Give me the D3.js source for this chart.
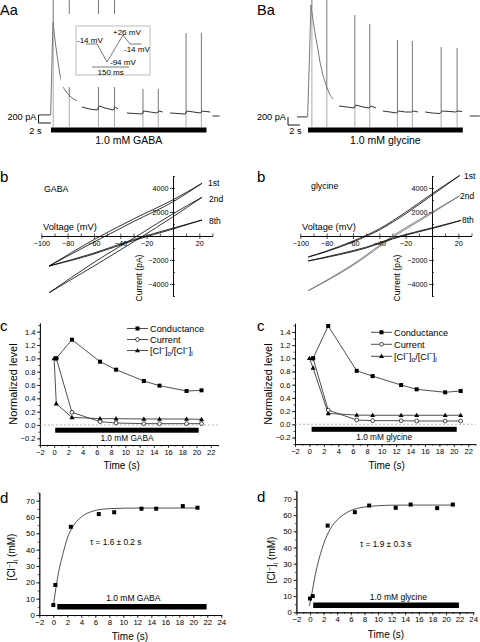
<!DOCTYPE html>
<html><head><meta charset="utf-8">
<script src="https://cdn.jsdelivr.net/npm/d3@7/dist/d3.min.js"></script>
<style>
html,body{margin:0;padding:0;background:#fff}
svg{display:block}
text{font-family:"Liberation Sans",Arial,Helvetica,sans-serif;fill:#000}
</style></head><body>
<svg id="fig" width="480" height="642"></svg>
<script>
// ================= DATA =================
// Aa / Ba : holding current traces (time s, current pA), pieces between voltage ramps
const traceGABA = [
  [[-1.7,0],[-1.0,4],[-0.1,0]],
  [[-0.05,0],[0.27,2325],[0.55,1875],[0.82,1500],[1.23,1000],[1.64,700],[2.19,550],[2.88,425],[3.56,350]],
  [[4.25,200],[5.3,150],[6.3,125],[6.6,225],[7.4,175],[8.5,125],[8.8,200],[9.2,150]],
  [[10.4,50],[11.5,37],[12.5,25],[12.7,100],[13.6,75],[14.5,50],[14.8,100],[15.3,75]],
  [[16.3,50],[17.4,37],[18.4,25],[18.6,100],[19.5,75],[20.5,50],[20.7,100],[21.8,75]],
  [[22.1,-25],[23.1,-25]]
];
const rampTimesGABA = [0.3, 2.5, 6.5, 8.7, 12.6, 14.7, 18.5, 20.6];
const rampBaseGABA  = [2300, 450, 125, 125, 25, 50, 25, 50];
const rampPeakGABA  = [3000, 3000, 3000, 3000, 650, 650, 2050, 2050];
const rampTroughGABA = -300;

const traceGly = [
  [[-1.55,0],[-0.8,4],[-0.1,0]],
  [[-0.05,0],[0.42,2800],[0.7,2425],[0.99,2100],[1.41,1675],[1.69,1375],[2.1,1050],[2.68,725],[3.1,550],[3.52,450]],
  [[4.37,275],[5.5,250],[6.48,225],[6.76,300],[7.75,250],[8.6,225],[8.87,275],[9.58,225]],
  [[10.56,150],[11.55,125],[12.5,100],[12.8,150],[13.7,125],[14.6,125],[14.9,150],[15.5,125]],
  [[16.5,125],[17.5,100],[18.6,87],[18.9,150],[20.0,137],[20.8,125],[21.1,150],[21.7,137]],
  [[22.8,25],[24.2,25]]
];
const rampTimesGly = [0.55, 2.65, 6.6, 8.7, 12.6, 14.7, 18.75, 21.0];
const rampBaseGly  = [2750, 700, 225, 225, 100, 125, 90, 125];
const rampPeakGly  = [3000, 3000, 2550, 2325, 1925, 1900, 1750, 1725];
const rampTroughGly = -250;

const barGABA = [0, 21.3];
const barGly  = [0, 21.8];

// inset voltage protocol (ms, mV)
const protoT = [0, 45, 85, 150, 178, 225];
const protoV = [-14, -14, -94, 26, -14, -14];

// b : I-V curves (mV, pA) – two branches per ramp
const ivGABA = {
  "1st": [[[-94,-2500],[-60,-500],[-30,1200],[0,2850],[22,4390]],
          [[-94,-2500],[-60,-300],[-30,1420],[0,3020],[22,4390]]],
  "2nd": [[[-94,-4725],[-60,-2500],[-25,-150],[0,1600],[22,3225]],
          [[-94,-4725],[-60,-2200],[-25,150],[0,1850],[22,3225]]],
  "8th": [[[-94,-2500],[-60,-1500],[-30,-380],[0,580],[22,1333]],
          [[-94,-2500],[-60,-1420],[-30,-300],[0,660],[22,1333]]]
};
const ivGly = {
  "1st": [[[-94,-1750],[-80,-1300],[-60,-500],[-40,500],[-20,1850],[0,3400],[21,5040]],
          [[-94,-1750],[-80,-1250],[-60,-420],[-40,600],[-20,1980],[0,3520],[21,5040]]],
  "2nd": [[[-94,-4560],[-60,-2450],[-29,-60],[0,1900],[21,3350]],
          [[-94,-4560],[-60,-2350],[-29,60],[0,2000],[21,3350]]],
  "8th": [[[-94,-2080],[-70,-1550],[-50,-1000],[-30,-250],[-10,350],[0,620],[22,1300]],
          [[-94,-2080],[-70,-1480],[-50,-930],[-30,-180],[-10,410],[0,680],[22,1300]]]
};
const ivLabels = ["1st", "2nd", "8th"];
const ivXTicks = [-100, -80, -60, -40, -20, 20];
const ivYTicks = [-4000, -2000, 2000, 4000];

// c : normalized levels
const cTimeGABA  = [0.3, 2.5, 6.45, 8.7, 12.6, 14.8, 18.6, 20.7];
const condGABA   = [1.0, 1.28, 0.95, 0.83, 0.66, 0.59, 0.51, 0.52];
const currGABA   = [1.0, 0.19, 0.05, 0.03, 0.02, 0.02, 0.02, 0.02];
const rTimeGABA  = [0, 0.3, 2.5, 6.45, 8.7, 12.6, 14.8, 18.6, 20.7];
const ratioGABA  = [1.0, 0.32, 0.115, 0.095, 0.095, 0.09, 0.09, 0.09, 0.085];

const cTimeGly   = [0.5, 2.6, 6.55, 8.75, 12.7, 14.85, 18.8, 20.95];
const condGly    = [1.0, 1.49, 0.81, 0.73, 0.595, 0.53, 0.485, 0.505];
const currGly    = [1.0, 0.215, 0.065, 0.055, 0.055, 0.05, 0.05, 0.05];
const rTimeGly   = [0, 0.5, 2.6, 6.55, 8.75, 12.7, 14.85, 18.8, 20.95];
const ratioGly   = [1.0, 0.855, 0.165, 0.14, 0.137, 0.137, 0.137, 0.137, 0.137];

const cBarGABA = [0.15, 20.3];
const cBarGly  = [0.3, 20.4];
const cYTicks = [-0.2, 0, 0.2, 0.4, 0.6, 0.8, 1.0, 1.2, 1.4];
const cXTicks = [-2, 0, 2, 4, 6, 8, 10, 12, 14, 16, 18, 20, 22];

// d : [Cl-]i (mM)
const dTimeGABA = [0, 0.3, 2.5, 6.5, 8.7, 12.6, 14.7, 18.5, 20.6];
const clGABA    = [6.1, 18.4, 54, 61.8, 62.9, 65.1, 65.1, 66.7, 65.7];
const fitTGABA  = [0, 0.25, 0.5, 0.75, 1, 1.5, 2, 2.5, 3, 4, 5, 6, 7, 8, 10, 12, 15, 18, 20.6];
const fitGABA   = [5, 13, 20, 26, 31, 39.5, 47, 52, 55.5, 60, 62.6, 64, 64.8, 65.1, 65.4, 65.5, 65.5, 65.5, 65.5];

const dTimeGly = [0, 0.4, 2.6, 6.6, 8.7, 12.6, 14.8, 18.7, 21.0];
const clGly    = [8.5, 10, 53.5, 61.8, 65.9, 64.5, 66.5, 64.3, 66.5];
const fitTGly  = [-0.1, 0.25, 0.5, 0.75, 1, 1.5, 2, 2.5, 3, 4, 5, 6, 7, 8, 10, 12, 15, 18, 21.0];
const fitGly   = [4, 11, 17, 22.5, 27.5, 35.5, 42, 47.5, 51.5, 57, 60.5, 62.8, 64.2, 65, 65.8, 66.1, 66.2, 66.2, 66.2];

const dBarGABA = [0.57, 21.9];
const dBarGly  = [0.47, 21.9];
const dYTicks = [0, 10, 20, 30, 40, 50, 60, 70];
const dXTicks = [-2, 0, 2, 4, 6, 8, 10, 12, 14, 16, 18, 20, 22, 24];

// ================= DRAW =================
const svg = d3.select("#fig");
const txt = (g, x, y, s, fs, anchor) => g.append("text").attr("x", x).attr("y", y)
  .attr("font-size", fs).attr("text-anchor", anchor || "start").text(s);

// ---------- top traces ----------
function tracePanel(o) {
  const g = svg.append("g");
  const x = d3.scaleLinear().domain([0, 10]).range([o.x0, o.x0 + 10 * o.k]);
  const y = d3.scaleLinear().domain([0, 200]).range([o.y0, o.y0 - 8]);
  const line = d3.line().x(d => x(d[0])).y(d => y(d[1]));
  o.ramps.forEach((t, i) => {
    g.append("line").attr("x1", x(t)).attr("x2", x(t)).attr("y1", y(o.base[i])).attr("y2", y(o.trough))
      .attr("stroke", "#aaa").attr("stroke-width", 1);
    g.append("line").attr("x1", x(t)).attr("x2", x(t)).attr("y1", y(o.base[i])).attr("y2", y(o.peak[i]))
      .attr("stroke", "#666").attr("stroke-width", 0.9);
  });
  o.trace.forEach((seg, i) => {
    g.append("path").attr("d", line(seg)).attr("fill", "none")
      .attr("stroke", i === 1 ? "#777" : "#333").attr("stroke-width", 1);
  });
  const sx = o.sbx, sy = y(0) + 8;
  g.append("path").attr("d", `M${sx},${sy - (y(0) - y(200))}V${sy}H${sx + (x(2) - x(0)) * 0.85}`)
    .attr("fill", "none").attr("stroke", "#000").attr("stroke-width", 0.9);
  txt(g, sx - 2, 120, "200 pA", 9.2, "end");
  txt(g, o.sbt, 133.5, "2 s", 9.2, "middle");
  g.append("rect").attr("x", x(o.bar[0])).attr("width", x(o.bar[1]) - x(o.bar[0]))
    .attr("y", 127.5).attr("height", 5).attr("fill", "#000");
  txt(g, (x(o.bar[0]) + x(o.bar[1])) / 2, 144, o.label, 10.5, "middle");
  txt(g, o.lx, 14.5, o.title, 14.5);
  return g;
}

tracePanel({x0: 51, k: 7.3, y0: 115, trace: traceGABA, ramps: rampTimesGABA, base: rampBaseGABA,
  peak: rampPeakGABA, trough: rampTroughGABA, bar: barGABA, label: "1.0 mM GABA", sbx: 38.5, sbt: 35.5, lx: 0, title: "Aa"});

// inset (white cover + box + protocol)
(function () {
  const g = svg.append("g");
  g.append("rect").attr("x", 61).attr("y", 14).attr("width", 90).attr("height", 73).attr("fill", "#fff");
  g.append("rect").attr("x", 76).attr("y", 26).attr("width", 74).attr("height", 49)
    .attr("fill", "#fff").attr("stroke", "#aaa").attr("stroke-width", 0.8);
  const px = d3.scaleLinear().domain([0, 150]).range([86, 123]);
  const py = d3.scaleLinear().domain([-94, 26]).range([62, 35]);
  g.append("path").attr("d", d3.line().x((d, i) => px(protoT[i])).y(d => py(d))(protoV))
    .attr("fill", "none").attr("stroke", "#555").attr("stroke-width", 0.8);
  g.append("line").attr("x1", px(25)).attr("x2", px(175)).attr("y1", 67).attr("y2", 67)
    .attr("stroke", "#555").attr("stroke-width", 0.8);
  txt(g, 77, 42.5, "-14 mV", 8);
  txt(g, 113, 35, "+26 mV", 8);
  txt(g, 124, 51.5, "-14 mV", 8);
  txt(g, 110, 64.5, "-94 mV", 8);
  txt(g, px(100), 74.5, "150 ms", 8, "middle");
})();

tracePanel({x0: 308, k: 7.1, y0: 117, trace: traceGly, ramps: rampTimesGly, base: rampBaseGly,
  peak: rampPeakGly, trough: rampTroughGly, bar: barGly, label: "1.0 mM glycine", sbx: 288, sbt: 295.5, lx: 257, title: "Ba"});

// ---------- b : I-V ----------
function ivPanel(o) {
  const g = svg.append("g");
  const x = d3.scaleLinear().domain([-100, 30]).range([o.xl, o.xl + 130 * 1.317]);
  const y = d3.scaleLinear().domain([-5000, 5000]).range([296, 176]);
  g.append("g").attr("transform", `translate(0,${y(0)})`)
    .call(d3.axisBottom(x).tickValues(ivXTicks).tickSize(3).tickSizeOuter(0).tickPadding(2).tickFormat(d3.format("d")));
  g.append("g").attr("transform", `translate(0,${y(0)})`)
    .call(d3.axisTop(x).tickValues(d3.range(-100, 31, 10)).tickSize(2.5).tickSizeOuter(0).tickFormat(""));
  g.append("g").attr("transform", `translate(${x(0)},0)`)
    .call(d3.axisLeft(y).tickValues(ivYTicks).tickSize(3).tickSizeOuter(0).tickPadding(1.5).tickFormat(d3.format("d")));
  g.append("g").attr("transform", `translate(${x(0)},0)`)
    .call(d3.axisRight(y).tickValues(d3.range(-5000, 5001, 1000)).tickSize(2).tickSizeOuter(0).tickFormat(""));
  g.selectAll(".domain").attr("stroke-width", 0.8);
  g.selectAll(".tick line").attr("stroke-width", 0.7);
  g.selectAll(".tick text").attr("font-size", 7.2).attr("font-family", "Liberation Sans, Arial, sans-serif");
  const line = d3.line().x(d => x(d[0])).y(d => y(d[1])).curve(d3.curveMonotoneX);
  ivLabels.forEach(k => {
    o.data[k].forEach(br => g.append("path").attr("d", line(br)).attr("fill", "none")
      .attr("stroke", (o.gray && k === "2nd") ? "#666" : "#000").attr("stroke-width", 0.8));
  });
  ivLabels.forEach((k, i) => txt(g, o.lab[i][0], o.lab[i][1], k, 8.5));
  txt(g, o.tx, o.ty, o.name, 8.8);
  txt(g, o.vx, 229.5, "Voltage (mV)", 9.3);
  g.append("text").attr("transform", `translate(${o.cx},278) rotate(-90)`).attr("text-anchor", "middle")
    .attr("font-size", 8.5).text("Current (pA)");
  txt(g, o.bx, 182, "b", 15);
}
ivPanel({xl: 41.3, data: ivGABA, lab: [[208, 186], [209, 202], [209, 224]], tx: 44, ty: 192, name: "GABA",
  vx: 43, cx: 142, bx: 0, gray: false});
ivPanel({xl: 300.3, data: ivGly, lab: [[464, 179], [460, 199], [462, 223]], tx: 311, ty: 189, name: "glycine",
  vx: 302, cx: 400, bx: 257, gray: true});

// ---------- generic origin-style axes ----------
function originAxes(g, x, y, ax0, xt, yt, xminor, yminor, fs, yfmt) {
  const y0 = y.range()[0];
  g.append("g").attr("transform", `translate(0,${y0})`)
    .call(d3.axisBottom(x).tickValues(xt).tickSize(3).tickSizeOuter(0).tickPadding(1.5).tickFormat(d3.format("d")));
  g.append("g").attr("transform", `translate(0,${y0})`)
    .call(d3.axisBottom(x).tickValues(xminor).tickSize(1.6).tickSizeOuter(0).tickFormat(""));
  g.append("g").attr("transform", `translate(${ax0},0)`)
    .call(d3.axisLeft(y).tickValues(yt).tickSize(3).tickSizeOuter(0).tickPadding(1.5).tickFormat(yfmt));
  g.append("g").attr("transform", `translate(${ax0},0)`)
    .call(d3.axisLeft(y).tickValues(yminor).tickSize(1.6).tickSizeOuter(0).tickFormat(""));
  g.selectAll(".domain").attr("stroke-width", 0.8);
  g.selectAll(".tick line").attr("stroke-width", 0.7);
  g.selectAll(".tick text").attr("font-size", fs).attr("font-family", "Liberation Sans, Arial, sans-serif");
}

function clLabel(sel, fs) {
  sel.append("tspan").text("[Cl");
  sel.append("tspan").attr("dy", -fs * 0.35).attr("font-size", fs * 0.7).text("\u2212");
  sel.append("tspan").attr("dy", fs * 0.35).text("]");
}

// ---------- c ----------
function cPanel(o) {
  const g = svg.append("g");
  const x = d3.scaleLinear().domain([-2, 23]).range([o.x0, o.x0 + 25 * o.k]);
  const y = d3.scaleLinear().domain([-0.3, 1.53]).range([o.yb, o.yb - 1.83 * o.ky]);
  originAxes(g, x, y, o.x0, cXTicks, cYTicks, d3.range(-2, 23.1, 1), d3.range(-0.3, 1.51, 0.1).map(v => +v.toFixed(2)), 7.5, d3.format(".1f"));
  g.append("line").attr("x1", x(-2)).attr("x2", x(23)).attr("y1", y(0)).attr("y2", y(0))
    .attr("stroke", "#999").attr("stroke-width", 0.7).attr("stroke-dasharray", "2,2");
  g.append("rect").attr("x", x(o.bar[0])).attr("width", x(o.bar[1]) - x(o.bar[0]))
    .attr("y", o.yb - 17.3).attr("height", 5).attr("fill", "#000");
  txt(g, (x(o.bar[0]) + x(o.bar[1])) / 2, o.yb - 4.2, o.label, 8.3, "middle");
  const line = d3.line().x(d => x(d[0])).y(d => y(d[1]));
  const series = [
    {t: o.tc, v: o.cond, m: "sq"},
    {t: o.tc, v: o.curr, m: "ci"},
    {t: o.tr, v: o.ratio, m: "tr"}
  ];
  const mark = (gg, type, cx, cy) => {
    if (type === "sq") gg.append("rect").attr("x", cx - 2).attr("y", cy - 2).attr("width", 4).attr("height", 4).attr("fill", "#000");
    else if (type === "ci") gg.append("circle").attr("cx", cx).attr("cy", cy).attr("r", 1.9).attr("fill", "#fff").attr("stroke", "#000").attr("stroke-width", 0.7);
    else gg.append("path").attr("d", `M${cx},${cy - 2.6}L${cx + 2.5},${cy + 1.8}L${cx - 2.5},${cy + 1.8}Z`).attr("fill", "#000");
  };
  series.forEach(s => {
    const pts = s.t.map((t, i) => [t, s.v[i]]);
    g.append("path").attr("d", line(pts)).attr("fill", "none").attr("stroke", "#222").attr("stroke-width", 0.8);
  });
  series.slice().reverse().forEach(s => s.t.forEach((t, i) => mark(g, s.m, x(t), y(s.v[i]))));
  const names = ["Conductance", "Current", null];
  series.forEach((s, i) => {
    const ly = o.ly + i * o.ls;
    g.append("line").attr("x1", o.lx).attr("x2", o.lx + 21).attr("y1", ly).attr("y2", ly).attr("stroke", "#222").attr("stroke-width", 0.8);
    mark(g, s.m, o.lx + 10.5, ly);
    const t = g.append("text").attr("x", o.lx + 23).attr("y", ly + 3.3).attr("font-size", 9.2);
    if (names[i]) t.text(names[i]);
    else {
      clLabel(t, 9.2);
      t.append("tspan").attr("dy", 2.2).attr("font-size", 6.5).text("o");
      t.append("tspan").attr("dy", -2.2).text("/");
      clLabel(t, 9.2);
      t.append("tspan").attr("dy", 2.2).attr("font-size", 6.5).text("i");
    }
  });
  g.append("text").attr("transform", `translate(${o.yx},384) rotate(-90)`).attr("text-anchor", "middle")
    .attr("font-size", 11).text("Normalized level");
  txt(g, o.tx, 469, "Time (s)", 10, "middle");
  txt(g, o.cxl, 331, "c", 15);
}
cPanel({x0: 39.9, k: 7.12, yb: 445, ky: 66.67, bar: cBarGABA, label: "1.0 mM GABA",
  tc: cTimeGABA, cond: condGABA, curr: currGABA, tr: rTimeGABA, ratio: ratioGABA,
  lx: 127, ly: 328.5, ls: 11, yx: 17, tx: 121.7, cxl: 0});
cPanel({x0: 295, k: 7.22, yb: 444.1, ky: 66, bar: cBarGly, label: "1.0 mM glycine",
  tc: cTimeGly, cond: condGly, curr: currGly, tr: rTimeGly, ratio: ratioGly,
  lx: 371, ly: 332.3, ls: 12, yx: 272, tx: 386.7, cxl: 257});

// ---------- d ----------
function dPanel(o) {
  const g = svg.append("g");
  const x = d3.scaleLinear().domain([-2, 24]).range([o.x0, o.x0 + 26 * o.k]);
  const y = d3.scaleLinear().domain([0, 75]).range([o.yb, o.yb - 75 * o.ky]);
  originAxes(g, x, y, o.x0, dXTicks, dYTicks, d3.range(-2, 24.1, 1), d3.range(0, 75.1, 5), 7.8, d3.format("d"));
  g.append("rect").attr("x", x(o.bar[0])).attr("width", x(o.bar[1]) - x(o.bar[0]))
    .attr("y", o.barY).attr("height", 5.5).attr("fill", "#000");
  txt(g, o.blx, o.barY - 3, o.label, 8.5, "middle");
  const fit = o.ft.map((t, i) => [t, o.fv[i]]);
  g.append("path").attr("d", d3.line().x(d => x(d[0])).y(d => y(d[1])).curve(d3.curveMonotoneX)(fit))
    .attr("fill", "none").attr("stroke", "#222").attr("stroke-width", 0.8);
  o.t.forEach((t, i) => g.append("rect").attr("x", x(t) - 2).attr("y", y(o.v[i]) - 2)
    .attr("width", 4).attr("height", 4).attr("fill", "#000"));
  txt(g, o.taux, o.tauy, o.tau, 8.3);
  const yt = g.append("text").attr("transform", `translate(${o.yx},${o.yy}) rotate(-90)`).attr("text-anchor", "middle").attr("font-size", 10);
  clLabel(yt, 10);
  yt.append("tspan").attr("dy", 2.5).attr("font-size", 7).text("i");
  yt.append("tspan").attr("dy", -2.5).text(" (mM)");
  txt(g, o.tx, o.tty, "Time (s)", 10, "middle");
  txt(g, o.dx, o.dy, "d", 15);
}
dPanel({x0: 39.3, k: 7.0, yb: 615, ky: 1.633, bar: dBarGABA, barY: 604, label: "1.0 mM GABA", blx: 133.3,
  t: dTimeGABA, v: clGABA, ft: fitTGABA, fv: fitGABA, tau: "\u03c4 = 1.6 \u00b1 0.2 s", taux: 90, tauy: 544.5,
  yx: 15, yy: 557, tx: 130, tty: 640, dx: 0, dy: 503});
dPanel({x0: 296.4, k: 6.8, yb: 612.3, ky: 1.62, bar: dBarGly, barY: 602.5, label: "1.0 mM glycine", blx: 398.3,
  t: dTimeGly, v: clGly, ft: fitTGly, fv: fitGly, tau: "\u03c4 = 1.9 \u00b1 0.3 s", taux: 360, tauy: 547,
  yx: 275, yy: 560, tx: 386, tty: 638, dx: 257, dy: 502});
</script></body></html>
